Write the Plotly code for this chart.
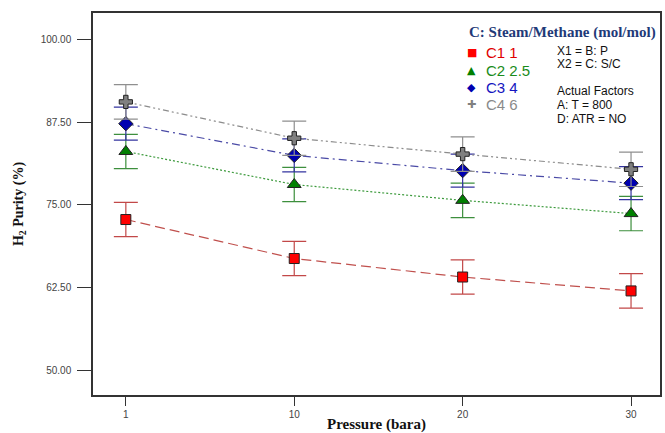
import plotly.graph_objects as go

# Pressure levels (bara) and H2 purity (%) for each steam/methane ratio
pressure = ["1", "10", "20", "30"]
c1_purity = [72.8, 66.9, 64.1, 62.0]
c2_purity = [83.1, 78.1, 75.7, 73.7]
c3_purity = [87.3, 82.5, 80.2, 78.3]
c4_purity = [90.6, 85.1, 82.7, 80.4]
c1_err = [2.6, 2.6, 2.6, 2.6]
c2_err = [2.6, 2.6, 2.6, 2.6]
c3_err = [2.5, 2.5, 2.5, 2.5]
c4_err = [2.6, 2.6, 2.6, 2.6]

series_names = ["C1 1", "C2 2.5", "C3 4", "C4 6"]
y_ticks = [50, 62.5, 75, 87.5, 100]

styles = [
    dict(y=c1_purity, e=c1_err, line="#c0504d", dash="10px,5px", fill="#ff0000",
         symbol="square", bar="#c24848", size=10, text="#e00000"),
    dict(y=c2_purity, e=c2_err, line="#3c9a3c", dash="2px,2px", fill="#008000",
         symbol="triangle-up", bar="#3d8f3d", size=12, text="#1a8c1a"),
    dict(y=c3_purity, e=c3_err, line="#4a4aa6", dash="8px,4px,2px,4px", fill="#0000b0",
         symbol="diamond", bar="#3434a0", size=11, text="#1515c0"),
    dict(y=c4_purity, e=c4_err, line="#8c8c8c", dash="6px,3px,2px,3px,2px,3px", fill="#808080",
         symbol="cross", bar="#8f8f8f", size=11, text="#8a8a8a"),
]

fig = go.Figure()
for name, s in zip(series_names, styles):
    fig.add_trace(go.Scatter(
        x=pressure, y=s["y"], name=name, mode="lines+markers",
        line=dict(color=s["line"], width=1.2, dash=s["dash"]),
        marker=dict(symbol=s["symbol"], size=s["size"], color=s["fill"],
                    line=dict(color="#222222", width=1)),
        error_y=dict(type="data", array=s["e"], color=s["bar"], thickness=1.2, width=12),
        showlegend=False,
    ))

# Page geometry: plot area spans x 93..662 and y 13..398 (pixels)
W, H = 665, 433
L, R, T, B = 93, 3, 13, 35
PW, PH = W - L - R, H - T - B


def px_x(px):
    return (px - L) / PW


def px_y(py):
    return (H - B - py) / PH


# Key block in the upper right
annotations = [
    dict(x=468, y=33, text="<b>C: Steam/Methane (mol/mol)</b>",
         font=dict(family="Liberation Serif", size=15, color="#1f3a78"), xanchor="left"),
]
glyphs = ["■", "▲", "◆", "✚"]
rows = [53, 71, 88, 105]
for g, name, s, yy in zip(glyphs, series_names, styles, rows):
    annotations.append(dict(x=473, y=yy, text=g, xanchor="center",
                            font=dict(family="DejaVu Sans", size=11, color=s["fill"])))
    annotations.append(dict(x=485, y=yy, text=name, xanchor="left",
                            font=dict(family="Liberation Sans", size=15, color=s["text"])))
for txt, yy in [("X1 = B: P", 51), ("X2 = C: S/C", 64.5), ("Actual Factors", 92),
                ("A: T = 800", 106), ("D: ATR = NO", 119.5)]:
    annotations.append(dict(x=557, y=yy, text=txt, xanchor="left",
                            font=dict(family="Liberation Sans", size=12, color="#111111")))

for a in annotations:
    a.update(xref="paper", yref="paper", showarrow=False, yanchor="middle")
    a["x"] = px_x(a["x"])
    a["y"] = px_y(a["y"])

fig.update_layout(
    width=W, height=H,
    margin=dict(l=L, r=R, t=T, b=B, pad=0),
    paper_bgcolor="white", plot_bgcolor="white",
    annotations=annotations,
    xaxis=dict(
        type="category", range=[-0.195, 3.172],
        showline=True, linecolor="#333333", linewidth=1.5, mirror=True,
        showgrid=False, zeroline=False,
        ticks="outside", ticklen=9, tickcolor="#333333", tickwidth=1.2,
        tickfont=dict(family="Liberation Sans", size=10, color="#444444"),
        title=dict(text="<b>Pressure (bara)</b>", standoff=0,
                   font=dict(family="Liberation Serif", size=15, color="#111111")),
    ),
    yaxis=dict(
        range=[46.25, 104.05], tickvals=y_ticks, tickformat=".2f",
        showline=True, linecolor="#333333", linewidth=1.5, mirror=True,
        showgrid=False, zeroline=False,
        ticks="outside", ticklen=14, tickcolor="#333333", tickwidth=1.2,
        ticklabelstandoff=4,
        tickfont=dict(family="Liberation Sans", size=10, color="#444444"),
        title=dict(text="<b>H<sub>2</sub> Purity (%)</b>", standoff=14,
                   font=dict(family="Liberation Serif", size=14, color="#111111")),
    ),
)

fig.write_html("out.html")
